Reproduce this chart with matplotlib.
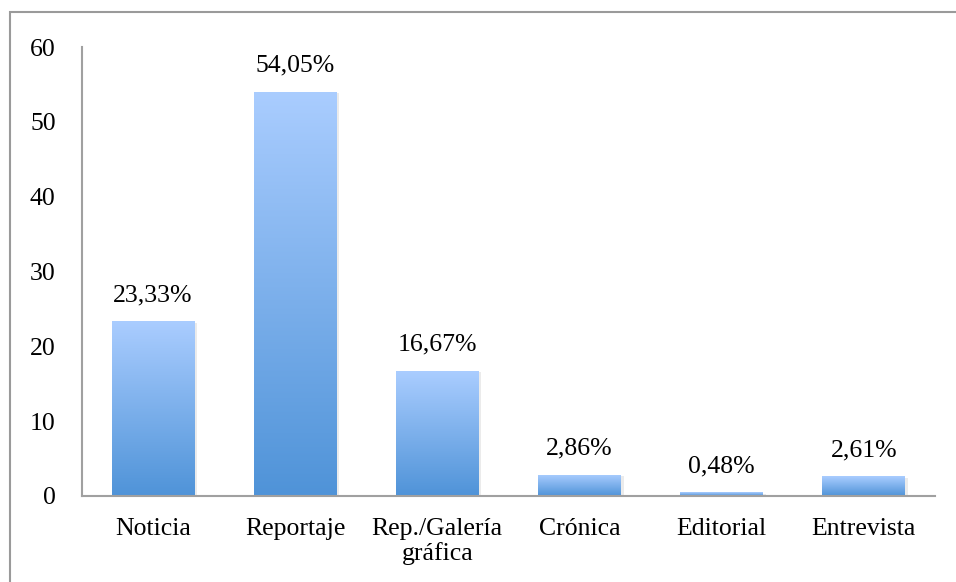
import numpy as np
import matplotlib
matplotlib.use("Agg")
import matplotlib.pyplot as plt
from matplotlib.colors import LinearSegmentedColormap
from matplotlib.patches import Rectangle

# ---- Data ----------------------------------------------------------------
categories = ["Noticia", "Reportaje", "Rep./Galería\ngráfica", "Crónica", "Editorial", "Entrevista"]
values     = [23.33, 54.05, 16.67, 2.86, 0.48, 2.61]
labels     = ["23,33%", "54,05%", "16,67%", "2,86%", "0,48%", "2,61%"]
yticks     = [0, 10, 20, 30, 40, 50, 60]

plt.rcParams["font.family"] = ["Liberation Serif", "DejaVu Serif"]
FS = 18.5

fig = plt.figure(figsize=(9.56, 5.82), dpi=100)
ax = fig.add_axes([0.0858, 0.1478, 0.892, 0.7714])

# outer frame (only left/top visible in the original)
fig.add_artist(Rectangle((10 / 956, -0.1), 1.2, 1 - 12 / 582 + 0.1, transform=fig.transFigure,
                         fill=False, edgecolor="#9a9a9a", linewidth=1.5))

grad = LinearSegmentedColormap.from_list("bar", ["#4f93d8", "#aacdff"])
width = 0.58
x = np.arange(len(categories))

for xi, v, lab in zip(x, values, labels):
    # soft shadow
    ax.add_patch(Rectangle((xi - width / 2 + 0.02, 0), width, v - 0.15,
                           facecolor="#000000", alpha=0.08, edgecolor="none", zorder=1))
    bar = ax.bar(xi, v, width, color="none", edgecolor="none", zorder=2)[0]
    img = ax.imshow(np.linspace(0, 1, 256).reshape(-1, 1), cmap=grad, origin="lower",
                    extent=[xi - width / 2, xi + width / 2, 0, v], aspect="auto", zorder=2)
    img.set_clip_path(bar)
    ax.annotate(lab, (xi, v), xytext=(0, 19), textcoords="offset points",
                ha="center", va="center", fontsize=FS)

ax.set_xlim(-0.5, len(categories) - 0.5)
ax.set_ylim(0, 60)
ax.set_yticks(yticks)
ax.set_xticks(x)
ax.set_xticklabels(categories, fontsize=FS, linespacing=1.1)
ax.tick_params(axis="y", length=0, pad=19, labelsize=FS)
ax.tick_params(axis="x", length=0, pad=16)

for s in ["top", "right"]:
    ax.spines[s].set_visible(False)
for s in ["left", "bottom"]:
    ax.spines[s].set_color("#a0a0a0")
    ax.spines[s].set_linewidth(1.5)

fig.savefig("out.png", dpi=100)
